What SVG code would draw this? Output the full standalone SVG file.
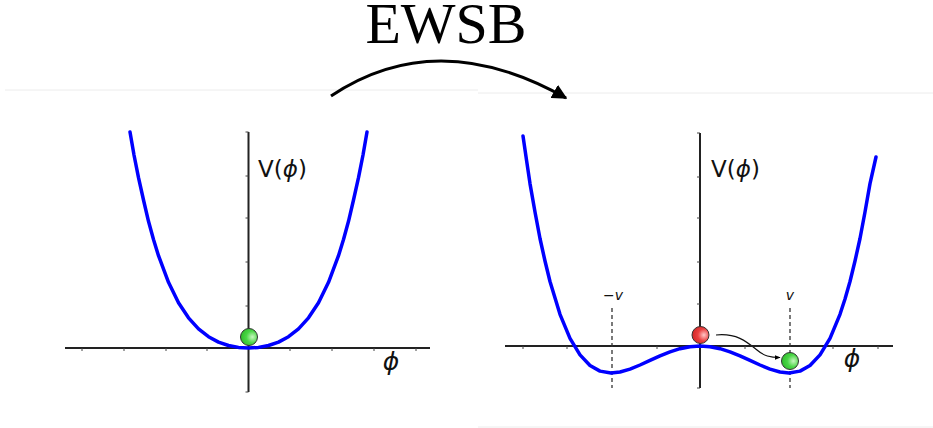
<svg xmlns="http://www.w3.org/2000/svg" width="933" height="428" viewBox="0 0 933 428">
<style>
.sep{stroke:#ececec;stroke-width:1;fill:none}
.axis{stroke:#222;stroke-width:2;fill:none}
.tick{stroke:#444;stroke-width:1;fill:none}
.curve{stroke:#0000ff;stroke-width:3.5;fill:none;stroke-linejoin:round;stroke-linecap:round}
.dash{stroke:#333;stroke-width:1.3;stroke-dasharray:4,3;fill:none}
.lbl{font-family:"DejaVu Sans",sans-serif;fill:#111}
.ball{stroke:#333;stroke-width:1}
</style>
<defs>
<marker id="bigHead" viewBox="0 0 10 10" refX="9" refY="5" markerWidth="5" markerHeight="5" orient="auto" markerUnits="strokeWidth">
<path d="M0,0 L10,5 L0,10 z" fill="#000"/>
</marker>
<marker id="smallHead" viewBox="0 0 10 10" refX="9" refY="5" markerWidth="5" markerHeight="5" orient="auto" markerUnits="strokeWidth">
<path d="M0,1 L10,5 L0,9 z" fill="#000"/>
</marker>
<radialGradient id="gGreen" cx="0.7" cy="0.5" r="0.65">
<stop offset="0" stop-color="#c8f7c0"/><stop offset="0.55" stop-color="#4ad646"/><stop offset="1" stop-color="#33c02f"/>
</radialGradient>
<radialGradient id="gRed" cx="0.7" cy="0.5" r="0.65">
<stop offset="0" stop-color="#ffc8c8"/><stop offset="0.55" stop-color="#ea4040"/><stop offset="1" stop-color="#d42a2a"/>
</radialGradient>
</defs>

<g id="separators">
<line class="sep" x1="5" y1="90" x2="478" y2="90"/>
<line class="sep" x1="478" y1="93" x2="933" y2="93"/>
<line class="sep" x1="478" y1="427" x2="933" y2="427"/>
</g>

<g id="title">
<text x="446" y="43" text-anchor="middle" font-family="Liberation Serif, serif" font-size="58" fill="#000">EWSB</text>
</g>

<g id="connectors">
<path d="M331,96 Q437,25 566,98" stroke="#000" stroke-width="3" fill="none" marker-end="url(#bigHead)"/>
<path d="M716,335 C736,333 746,341 757,350 C764,356 770,357.5 780,357.5" stroke="#111" stroke-width="1.2" fill="none" marker-end="url(#smallHead)"/>
</g>

<g id="left-plot">
<line class="axis" x1="65" y1="348" x2="430" y2="348"/>
<line class="axis" x1="248.5" y1="132" x2="248.5" y2="392"/>
<g class="tick">
<path d="M82,348v3M124,348v3M166,348v3M207,348v3M290,348v3M332,348v3M374,348v3M416,348v3"/>
<path d="M248.5,176h-3M248.5,218h-3M248.5,262h-3M248.5,306h-3M248.5,132h-3M248.5,392h-3"/>
</g>
<polyline class="curve" points="130,132 134,155 138.5,177.7 143.5,200 148.5,221.3 153.5,239.5 158.5,255.7 168.5,282.3 178.5,302.7 188.5,317.8 198.5,328.9 208.5,336.7 218.5,342.1 228.5,345.5 238.5,347.4 248.5,348 258.5,347.4 268.5,345.5 278.5,342.1 288.5,336.7 298.5,328.9 308.5,317.8 318.5,302.7 328.5,282.3 338.5,255.7 343.5,239.5 348.5,221.3 353.5,200 358.5,177.7 363,155 367,132"/>
<circle class="ball" cx="249" cy="337" r="8.5" fill="url(#gGreen)"/>
<text class="lbl" x="258" y="177" font-size="23">V(<tspan font-style="italic">ϕ</tspan>)</text>
<text class="lbl" x="391" y="370" font-size="25" font-style="italic" text-anchor="middle">ϕ</text>
</g>

<g id="right-plot">
<line class="axis" x1="505" y1="346" x2="893" y2="346"/>
<line class="axis" x1="700" y1="133" x2="700" y2="388"/>
<g class="tick">
<path d="M523,346v3M567,346v3M657,346v3M745,346v3M833,346v3M878,346v3"/>
<path d="M700,177h-3M700,218h-3M700,262h-3M700,304h-3M700,133h-3M700,388h-3"/>
</g>
<line class="dash" x1="612" y1="308" x2="612" y2="388"/>
<line class="dash" x1="790" y1="308" x2="790" y2="388"/>
<polyline class="curve" points="523,136 526.5,160 530,183.6 535,212 540,238.5 545,261 550,281.5 560,314.3 570,338.3 580,354.9 590,365.5 600,371.1 611,373 620,372 630,369.1 640,365 650,360.4 660,355.8 670,351.8 680,348.7 690,346.7 700,346 710,346.7 720,348.7 730,351.8 740,355.8 750,360.4 760,365 770,369.1 780,372 789,373 800,371.1 810,365.5 820,354.9 830,338.3 840,314.3 845,299 850,281.5 855,261 860,238.5 865,212 870,183.6 876,157"/>
<circle class="ball" cx="700.5" cy="335" r="8.5" fill="url(#gRed)"/>
<circle class="ball" cx="790" cy="361" r="8.5" fill="url(#gGreen)"/>
<text class="lbl" x="711" y="177" font-size="23">V(<tspan font-style="italic">ϕ</tspan>)</text>
<text class="lbl" x="852" y="367" font-size="25" font-style="italic" text-anchor="middle">ϕ</text>
<text class="lbl" x="613" y="300" font-size="14" text-anchor="middle">−<tspan font-style="italic">v</tspan></text>
<text class="lbl" x="790" y="300" font-size="14" font-style="italic" text-anchor="middle">v</text>
</g>
</svg>
